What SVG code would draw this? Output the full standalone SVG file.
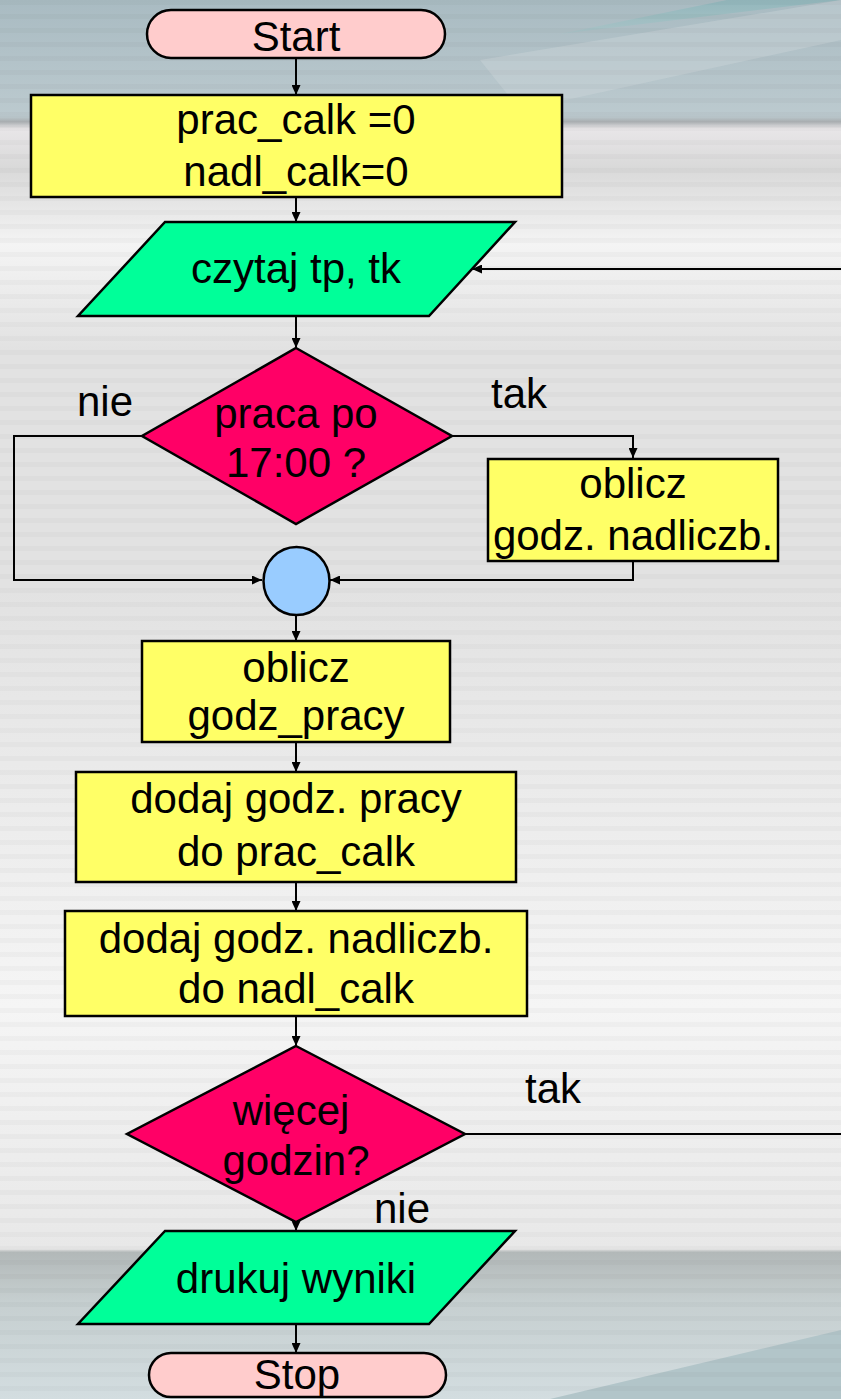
<svg xmlns="http://www.w3.org/2000/svg" width="841" height="1399" viewBox="0 0 841 1399">
<defs>
<linearGradient id="bg" x1="0" y1="0" x2="0" y2="1399" gradientUnits="userSpaceOnUse">
<stop offset="0" stop-color="#a9bbc2"/>
<stop offset="0.083" stop-color="#bccacf"/>
<stop offset="0.087" stop-color="#a8adb0"/>
<stop offset="0.092" stop-color="#e8e6e8"/>
<stop offset="0.12" stop-color="#d9d9d9"/>
<stop offset="0.175" stop-color="#f4f4f4"/>
<stop offset="0.25" stop-color="#e2e2e2"/>
<stop offset="0.42" stop-color="#e2e2e2"/>
<stop offset="0.72" stop-color="#f5f5f5"/>
<stop offset="0.893" stop-color="#e8e8e8"/>
<stop offset="0.895" stop-color="#b2b8b8"/>
<stop offset="0.93" stop-color="#c6cfd0"/>
<stop offset="1" stop-color="#d3dde0"/>
</linearGradient>
<linearGradient id="swoosh" x1="0" y1="0" x2="0" y2="1">
<stop offset="0" stop-color="#93b7bc"/>
<stop offset="1" stop-color="#a9c3c7"/>
</linearGradient>
<pattern id="stripes" width="20" height="14" patternUnits="userSpaceOnUse">
<rect x="0" y="0" width="20" height="5" fill="#000" fill-opacity="0.025"/>
</pattern>
<marker id="arr" markerWidth="10" markerHeight="9" refX="10" refY="4.5" orient="auto" markerUnits="userSpaceOnUse">
<path d="M0,0 L10,4.5 L0,9 z" fill="#000"/>
</marker>
<style>
.t{font-family:"Liberation Sans",Arial,sans-serif;font-size:42px;fill:#000;text-anchor:middle}
.lbl{font-family:"Liberation Sans",Arial,sans-serif;font-size:42px;fill:#000;text-anchor:middle}
.box{fill:#ffff66;stroke:#000;stroke-width:2.5}
.io{fill:#00ff99;stroke:#000;stroke-width:2.5}
.dec{fill:#ff0066;stroke:#000;stroke-width:2.5}
.term{fill:#ffcccc;stroke:#000;stroke-width:2.5}
.join{fill:#99ccff;stroke:#000;stroke-width:2.5}
.c{fill:none;stroke:#000;stroke-width:2}
.ca{fill:none;stroke:#000;stroke-width:2;marker-end:url(#arr)}
</style>
</defs>
<g id="background">
<rect x="0" y="0" width="841" height="1399" fill="url(#bg)"/>
<polygon points="560,34 727,0 841,0" fill="url(#swoosh)"/>
<polygon points="480,60 841,0 841,40 520,110" fill="#d0dadd" fill-opacity="0.35"/>
<polygon points="550,1399 841,1330 841,1399" fill="#b2c5c9"/>
<rect x="0" y="0" width="841" height="1399" fill="url(#stripes)"/>
</g>
<g id="connectors">
<path class="ca" d="M296,58 V95"/>
<path class="ca" d="M296,197 V222"/>
<path class="ca" d="M296,316 V348"/>
<path class="ca" d="M142,436 H14 V580 H262"/>
<path class="ca" d="M452,436 H633 V458"/>
<path class="ca" d="M633,561 V580 H330"/>
<path class="ca" d="M296,616 V641"/>
<path class="ca" d="M296,742 V772"/>
<path class="ca" d="M296,882 V911"/>
<path class="ca" d="M296,1016 V1046"/>
<path class="c" d="M465,1134 H841"/>
<path class="ca" d="M841,269 H472"/>
<path class="ca" d="M296,1222 V1231"/>
<path class="ca" d="M296,1324 V1353"/>
</g>
<g id="start">
<rect class="term" x="147" y="10" width="298" height="48" rx="24" ry="24"/>
<text class="t" x="296" y="51">Start</text>
</g>
<g id="init">
<rect class="box" x="31" y="95" width="531" height="102"/>
<text class="t" x="296" y="134">prac_calk =0</text>
<text class="t" x="296" y="186">nadl_calk=0</text>
</g>
<g id="read">
<polygon class="io" points="165,222 515,222 429,316 78,316"/>
<text class="t" x="296" y="283">czytaj tp, tk</text>
</g>
<g id="cond1">
<polygon class="dec" points="296,348 452,436 296,524 142,436"/>
<text class="t" x="296" y="428">praca po</text>
<text class="t" x="296" y="477">17:00 ?</text>
</g>
<g id="label-nie1"><text class="lbl" x="105" y="416">nie</text></g>
<g id="label-tak1"><text class="lbl" x="519" y="408">tak</text></g>
<g id="overtime">
<rect class="box" x="488" y="459" width="290" height="102"/>
<text class="t" x="633" y="498">oblicz</text>
<text class="t" x="633" y="550">godz. nadliczb.</text>
</g>
<g id="join">
<ellipse class="join" cx="296.5" cy="581" rx="33" ry="34"/>
</g>
<g id="hours">
<rect class="box" x="142" y="641" width="308" height="101"/>
<text class="t" x="296" y="682">oblicz</text>
<text class="t" x="296" y="730">godz_pracy</text>
</g>
<g id="addwork">
<rect class="box" x="76" y="772" width="440" height="110"/>
<text class="t" x="296" y="813">dodaj godz. pracy</text>
<text class="t" x="296" y="866">do prac_calk</text>
</g>
<g id="addover">
<rect class="box" x="65" y="911" width="462" height="105"/>
<text class="t" x="296" y="953">dodaj godz. nadliczb.</text>
<text class="t" x="296" y="1003">do nadl_calk</text>
</g>
<g id="cond2">
<polygon class="dec" points="296,1046 465,1134 296,1222 127,1134"/>
<text class="t" x="291" y="1125">więcej</text>
<text class="t" x="296" y="1175">godzin?</text>
</g>
<g id="label-tak2"><text class="lbl" x="553" y="1103">tak</text></g>
<g id="label-nie2"><text class="lbl" x="402" y="1223">nie</text></g>
<g id="print">
<polygon class="io" points="165,1231 515,1231 429,1324 78,1324"/>
<text class="t" x="296" y="1293">drukuj wyniki</text>
</g>
<g id="stop">
<rect class="term" x="149" y="1353" width="297" height="44" rx="22" ry="22"/>
<text class="t" x="297" y="1389">Stop</text>
</g>
</svg>
